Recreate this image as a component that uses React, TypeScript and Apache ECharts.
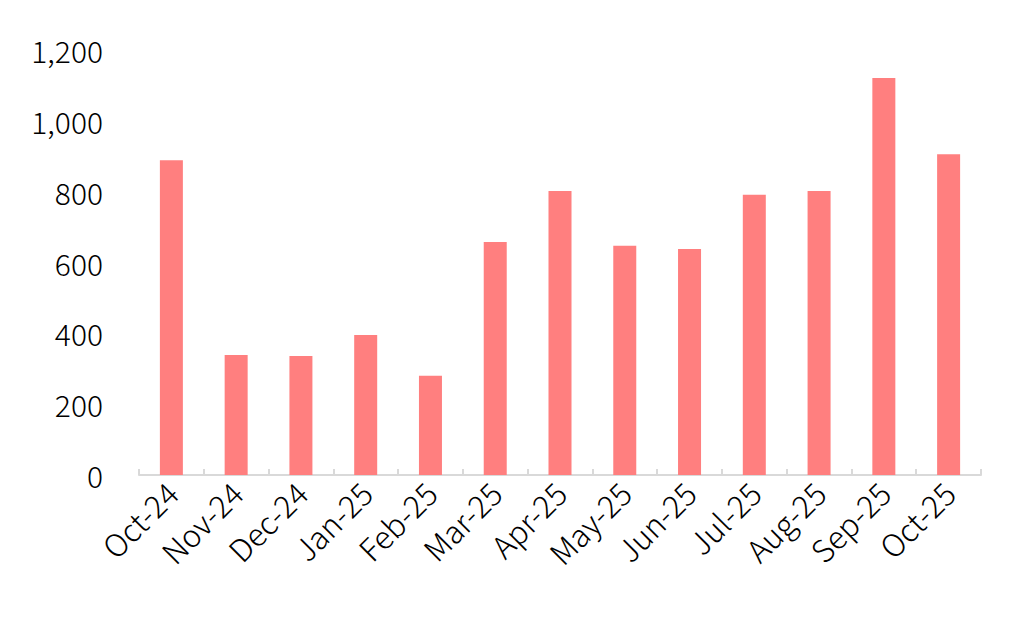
import React, { useEffect, useRef } from "react";
import * as echarts from "echarts";

const categories = ["Oct-24", "Nov-24", "Dec-24", "Jan-25", "Feb-25", "Mar-25", "Apr-25", "May-25", "Jun-25", "Jul-25", "Aug-25", "Sep-25", "Oct-25"];
const values = [889, 339, 336, 395, 280, 658, 802, 647, 638, 791, 802, 1121, 906];
const yTicks = { min: 0, max: 1200, interval: 200 };

export default function App() {
  const ref = useRef<HTMLDivElement>(null);
  useEffect(() => {
    const chart = echarts.init(ref.current!, null, { renderer: "svg" });
    const font = "'Noto Sans CJK SC', 'Noto Sans', sans-serif";
    chart.setOption({
      animation: false,
      grid: { left: 139, right: 50, top: 50, bottom: 149, containLabel: false },
      xAxis: {
        type: "category",
        data: categories,
        axisLine: { show: true, lineStyle: { color: "#D9D9D9", width: 2 } },
        axisTick: { show: true, inside: true, length: 6, lineStyle: { color: "#D9D9D9", width: 2 } },
        axisLabel: { rotate: 45, color: "#000", fontSize: 31, fontFamily: font, margin: 12, fontWeight: 300, interval: 0 },
      },
      yAxis: {
        type: "value",
        min: yTicks.min,
        max: yTicks.max,
        interval: yTicks.interval,
        axisLine: { show: false },
        axisTick: { show: false },
        splitLine: { show: false },
        axisLabel: {
          color: "#000",
          fontSize: 30,
          fontFamily: font,
          fontWeight: 300,
          margin: 36,
          formatter: (v: number) => v.toLocaleString("en-US"),
        },
      },
      series: [
        {
          type: "bar",
          data: values,
          barWidth: 23,
          itemStyle: { color: "#FF7F7F" },
        },
      ],
    });
    return () => chart.dispose();
  }, []);
  return <div ref={ref} style={{ width: 1031, height: 624, position: "absolute", left: 0, top: 0 }} />;
}
